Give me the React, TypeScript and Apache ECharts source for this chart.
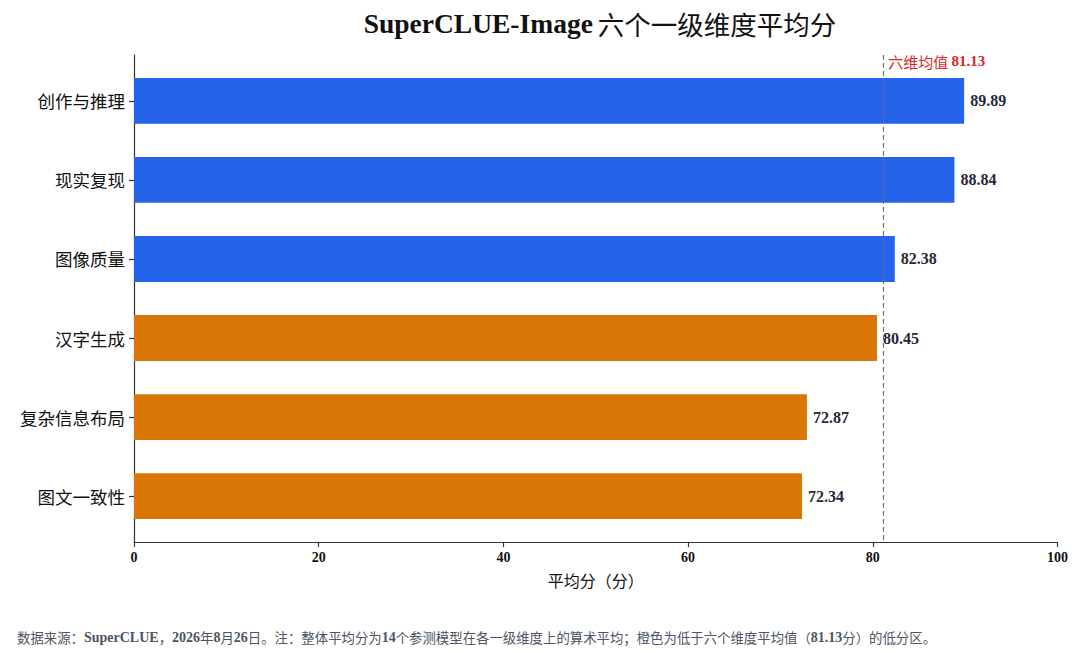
import React, { useEffect, useRef } from "react";
import * as echarts from "echarts";

const categories = ["创作与推理", "现实复现", "图像质量", "汉字生成", "复杂信息布局", "图文一致性"];
const scores = [89.89, 88.84, 82.38, 80.45, 72.87, 72.34];
const meanScore = 81.13;
const categoryIndex = [0, 1, 2, 3, 4, 5];
const xMin = 0;
const xMax = 100;
const xInterval = 20;

const titleLatin = "SuperCLUE-Image";
const titleCjk = "六个一级维度平均分";
const xAxisName = "平均分（分）";
const meanLabel = "六维均值";

const LATIN = "'Liberation Serif', 'Times New Roman', serif";
const CJK = "'Noto Sans CJK SC', 'Liberation Serif', serif";

const BLUE = "#2563eb";
const ORANGE = "#d97706";

export default function App() {
  const ref = useRef<HTMLDivElement>(null);

  useEffect(() => {
    if (!ref.current) return;
    const chart = echarts.init(ref.current, null, { renderer: "svg" });

    const option: any = {
      animation: false,
      backgroundColor: "#ffffff",
      title: [
        {
          text: `{a|${titleLatin}} {b|${titleCjk}}`,
          left: 595,
          textAlign: "center",
          top: 4,
          textStyle: {
            rich: {
              a: { fontFamily: LATIN, fontWeight: "bold", fontSize: 27.5, color: "#111111" },
              b: { fontFamily: CJK, fontWeight: "normal", fontSize: 26.5, color: "#111111" },
            },
          },
        },
        {
          text:
            "{n|数据来源：}{b|SuperCLUE}{n|，}{b|2026}{n|年}{b|8}{n|月}{b|26}{n|日。注：整体平均分为}{b|14}{n|个参测模型在各一级维度上的算术平均；橙色为低于六个维度平均值（}{b|" +
            meanScore.toFixed(2) +
            "}{n|分）的低分区。}",
          left: 12,
          top: 625,
          textStyle: {
            rich: {
              n: { fontFamily: CJK, fontWeight: "normal", fontSize: 13.4, color: "#4b5563" },
              b: { fontFamily: LATIN, fontWeight: "bold", fontSize: 14, color: "#4b5563" },
            },
          },
        },
      ],
      grid: { left: 134, right: 22.5, top: 55, bottom: 111, containLabel: false },
      xAxis: {
        type: "value",
        min: xMin,
        max: xMax,
        interval: xInterval,
        name: xAxisName,
        nameLocation: "middle",
        nameGap: 30,
        nameTextStyle: { fontFamily: CJK, fontSize: 16, color: "#111111" },
        axisLine: { show: true, onZero: false, lineStyle: { color: "#333333", width: 1.2 } },
        axisTick: { show: true, length: 5, lineStyle: { color: "#333333", width: 1.2 } },
        axisLabel: { fontFamily: LATIN, fontWeight: "bold", fontSize: 14, color: "#111111", margin: 8 },
        splitLine: { show: false },
      },
      yAxis: {
        type: "value",
        inverse: true,
        min: -0.58,
        max: 5.58,
        axisLine: { show: true, onZero: false, lineStyle: { color: "#333333", width: 1.2 } },
        axisTick: {
          show: true,
          length: 5,
          customValues: categoryIndex,
          lineStyle: { color: "#333333", width: 1.2 },
        },
        axisLabel: {
          customValues: categoryIndex,
          formatter: (v: number) => categories[Math.round(v)] ?? "",
          fontFamily: CJK,
          fontSize: 17.5,
          color: "#111111",
          margin: 9,
        },
        splitLine: { show: false },
      },
      series: [
        {
          type: "custom",
          encode: { x: 0, y: 1 },
          data: scores.map((s, i) => [s, categoryIndex[i]]),
          renderItem: (params: any, api: any) => {
            const v = api.value(0);
            const i = api.value(1);
            const start = api.coord([0, i]);
            const end = api.coord([v, i]);
            const h = api.size([0, 1])[1] * 0.58;
            const color = v >= meanScore ? BLUE : ORANGE;
            return {
              type: "group",
              children: [
                {
                  type: "rect",
                  shape: { x: start[0], y: start[1] - h / 2, width: end[0] - start[0], height: h },
                  style: { fill: color },
                },
                {
                  type: "text",
                  x: end[0] + 6,
                  y: end[1],
                  style: {
                    text: v.toFixed(2),
                    fill: "#1f2937",
                    font: `bold 16px ${LATIN}`,
                    align: "left",
                    verticalAlign: "middle",
                  },
                  z2: 10,
                },
              ],
            };
          },
          z: 2,
        },
        {
          type: "line",
          data: [],
          symbol: "none",
          z: 5,
          markLine: {
            silent: true,
            symbol: ["none", "none"],
            lineStyle: { type: [5, 3], color: "#6b7280", width: 1.2 },
            label: { show: false },
            data: [{ xAxis: meanScore }],
          },
          markPoint: {
            silent: true,
            symbol: "circle",
            symbolSize: 0,
            data: [{ coord: [meanScore, -0.58] }],
            label: {
              show: true,
              position: "right",
              distance: 5,
              offset: [0, 6],
              formatter: `{a|${meanLabel}} {b|${meanScore.toFixed(2)}}`,
              rich: {
                a: { fontFamily: CJK, fontSize: 15, color: "#dc2626" },
                b: { fontFamily: LATIN, fontWeight: "bold", fontSize: 15, color: "#dc2626" },
              },
            },
          },
        },
      ],
    };

    chart.setOption(option);
    return () => chart.dispose();
  }, []);

  return (
    <div
      ref={ref}
      style={{ position: "absolute", left: 0, top: 0, width: 1080, height: 653, background: "#fff" }}
    />
  );
}
